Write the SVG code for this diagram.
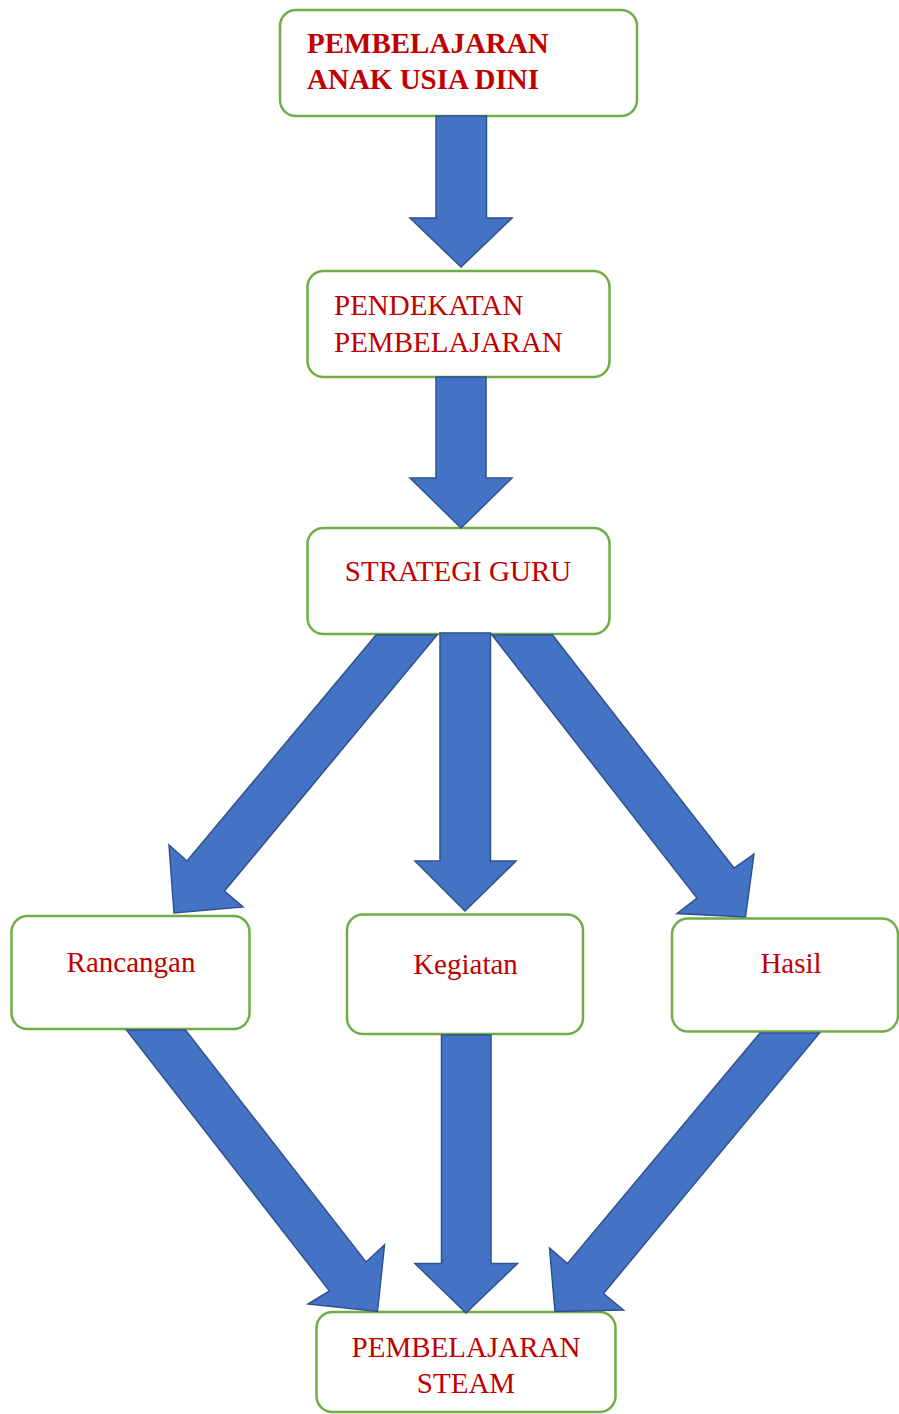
<svg xmlns="http://www.w3.org/2000/svg" width="899" height="1414" viewBox="0 0 899 1414">
<style>
.box{fill:#fff;stroke:#70AD47;stroke-width:2.5}
.arr{fill:#4472C4;stroke:#2F528F;stroke-width:1.5;stroke-linejoin:miter}
.t{font-family:"Liberation Serif","Times New Roman",serif;font-size:29px;fill:#C00000}
.b{font-weight:bold}
.m{text-anchor:middle}
</style>
<rect width="899" height="1414" fill="#fff"/>
<g id="n1"><rect class="box" x="280" y="10" width="357" height="106" rx="16"/>
<text class="t b" x="307" y="53">PEMBELAJARAN</text><text class="t b" x="307" y="89">ANAK USIA DINI</text></g>
<g id="n2"><rect class="box" x="307.5" y="271" width="302" height="106" rx="16"/>
<text class="t" x="334" y="315">PENDEKATAN</text><text class="t" x="334" y="352">PEMBELAJARAN</text></g>
<g id="n3"><rect class="box" x="307.5" y="528" width="302" height="106" rx="16"/>
<text class="t m" x="458" y="581">STRATEGI GURU</text></g>
<g id="n4"><rect class="box" x="11.5" y="916" width="238" height="113" rx="16"/>
<text class="t m" x="131" y="972">Rancangan</text></g>
<g id="n5"><rect class="box" x="347" y="914.5" width="236" height="119.5" rx="16"/>
<text class="t m" x="465.5" y="974">Kegiatan</text></g>
<g id="n6"><rect class="box" x="672" y="918.5" width="226" height="113" rx="16"/>
<text class="t m" x="791" y="973">Hasil</text></g>
<g id="n7"><rect class="box" x="316.5" y="1312" width="299" height="100" rx="16"/>
<text class="t m" x="466" y="1357">PEMBELAJARAN</text><text class="t m" x="466" y="1393">STEAM</text></g>
<g id="connectors">
<polygon class="arr" points="436,116 486.5,116 486.5,218 512,218 461,267 410,218 436,218"/>
<polygon class="arr" points="436,377 486,377 486,478 512,478 461,528 410,478 436,478"/>
<polygon class="arr" points="440,633 490.5,633 490.5,861 516,861 465,911 415,861 440,861"/>
<polygon class="arr" points="376,635 437,635 224.5,891 243,907 174,913 169,845 187,861"/>
<polygon class="arr" points="492,635 552.5,635 734,868 754,854 745.5,917 677,913.5 697,898"/>
<polygon class="arr" points="126.5,1030 185.5,1030 366,1262 384.5,1245 377.5,1311.5 308,1304 329.5,1291"/>
<polygon class="arr" points="441.5,1035 491,1035 491,1263.5 517.5,1263.5 466,1313 415,1263.5 441.5,1263.5"/>
<polygon class="arr" points="760,1033 819.5,1033 603.5,1293.5 623.5,1310 555,1311.5 549.5,1248 567.5,1263.5"/>
</g>
</svg>
